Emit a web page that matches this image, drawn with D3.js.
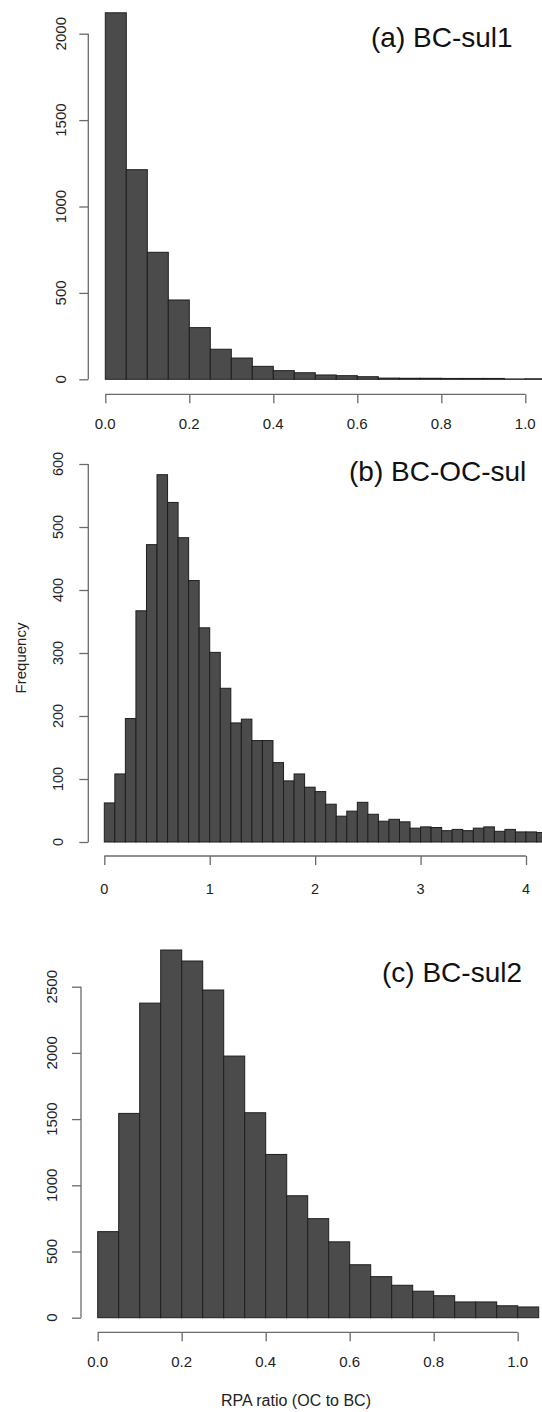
<!DOCTYPE html>
<html>
<head>
<meta charset="utf-8">
<script src="https://cdn.jsdelivr.net/npm/d3@7"></script>
<style>
  html, body { margin: 0; padding: 0; background: #fff; }
  svg { display: block; }
  text { font-family: "Liberation Sans", Arial, Helvetica, sans-serif; fill: #222; }
</style>
</head>
<body>
<svg id="chart" width="542" height="1412"></svg>
<script>
// Histogram counts of the RPA ratio (OC to BC), one array per scenario
const binWidthA = 0.05;
const countsA = [2121, 1213, 735, 459, 299, 174, 123, 75, 50, 38, 25, 21, 15, 7, 6, 6, 5, 5, 5, 2, 3];

const binWidthB = 0.1;
const countsB = [62, 108, 196, 367, 472, 583, 539, 483, 415, 340, 301, 244, 189, 195, 161, 161,
                 126, 97, 108, 87, 80, 60, 41, 49, 63, 44, 33, 36, 32, 22, 24, 23, 18, 20, 18,
                 22, 24, 17, 20, 16, 16, 15];

const binWidthC = 0.05;
const countsC = [650, 1543, 2376, 2777, 2694, 2475, 1976, 1548, 1233, 921, 748, 573, 400, 310,
                 245, 200, 166, 119, 119, 90, 81];

// Panel titles and axis tick values
const titles = ["(a) BC-sul1", "(b) BC-OC-sul", "(c) BC-sul2"];
const xTicksA = [0, 0.2, 0.4, 0.6, 0.8, 1.0];
const yTicksA = [0, 500, 1000, 1500, 2000];
const xTicksB = [0, 1, 2, 3, 4];
const yTicksB = [0, 100, 200, 300, 400, 500, 600];
const xTicksC = [0, 0.2, 0.4, 0.6, 0.8, 1.0];
const yTicksC = [0, 500, 1000, 1500, 2000, 2500];
const yLabel = "Frequency";
const xLabel = "RPA ratio (OC to BC)";

const svg = d3.select("#chart");

const panels = [
  { counts: countsA, bw: binWidthA, xTicks: xTicksA, yTicks: yTicksA, title: titles[0], xFmt: d3.format(".1f"),
    xDom: [0, 1], xRange: [105.3, 525.3], yDom: [0, 2000], yRange: [379.3, 33.7],
    xAxisY: 394.3, yAxisX: 88.3, xLabY: 429, yLabX: 66, tickFont: 15,
    titleX: 371, titleY: 47, titleSize: 28 },
  { counts: countsB, bw: binWidthB, xTicks: xTicksB, yTicks: yTicksB, title: titles[1], xFmt: d3.format("d"),
    xDom: [0, 4], xRange: [104.3, 526], yDom: [0, 600], yRange: [842, 464],
    xAxisY: 856, yAxisX: 88.3, xLabY: 894, yLabX: 63, tickFont: 14.5,
    titleX: 349, titleY: 481, titleSize: 28 },
  { counts: countsC, bw: binWidthC, xTicks: xTicksC, yTicks: yTicksC, title: titles[2], xFmt: d3.format(".1f"),
    xDom: [0, 1], xRange: [97.7, 517.7], yDom: [0, 2500], yRange: [1317.7, 986.7],
    xAxisY: 1332.3, yAxisX: 81, xLabY: 1367, yLabX: 57, tickFont: 15,
    titleX: 382, titleY: 982, titleSize: 28 }
];

const axisColor = "#6a6a6a";

panels.forEach(p => {
  const x = d3.scaleLinear().domain(p.xDom).range(p.xRange);
  const y = d3.scaleLinear().domain(p.yDom).range(p.yRange);
  const g = svg.append("g");

  // bars
  const bins = p.counts.map((c, i) => ({ x0: i * p.bw, x1: (i + 1) * p.bw, n: c }));
  g.append("g").selectAll("rect").data(bins).join("rect")
    .attr("x", d => x(d.x0))
    .attr("width", d => x(d.x1) - x(d.x0))
    .attr("y", d => y(d.n))
    .attr("height", d => y(0) - y(d.n))
    .attr("fill", "#4b4b4b")
    .attr("stroke", "#1e1e1e")
    .attr("stroke-width", 1);

  // x axis (line spans first to last tick)
  const xa = g.append("g").attr("transform", `translate(0,${p.xAxisY})`)
    .call(d3.axisBottom(x).tickValues(p.xTicks).tickSize(9).tickSizeOuter(0).tickFormat(""));
  xa.select(".domain").remove();
  xa.selectAll(".tick line").attr("stroke", axisColor).attr("stroke-width", 1.3);
  xa.append("line")
    .attr("x1", x(p.xTicks[0])).attr("x2", x(p.xTicks[p.xTicks.length - 1]))
    .attr("stroke", axisColor).attr("stroke-width", 1.3);
  g.append("g").selectAll("text").data(p.xTicks).join("text")
    .attr("x", d => x(d)).attr("y", p.xLabY)
    .attr("text-anchor", "middle")
    .style("font-size", p.tickFont + "px")
    .text(p.xFmt);

  // y axis
  const ya = g.append("g").attr("transform", `translate(${p.yAxisX},0)`)
    .call(d3.axisLeft(y).tickValues(p.yTicks).tickSize(9).tickSizeOuter(0).tickFormat(""));
  ya.select(".domain").remove();
  ya.selectAll(".tick line").attr("stroke", axisColor).attr("stroke-width", 1.3);
  ya.append("line")
    .attr("y1", y(p.yTicks[0])).attr("y2", y(p.yTicks[p.yTicks.length - 1]))
    .attr("stroke", axisColor).attr("stroke-width", 1.3);
  g.append("g").selectAll("text").data(p.yTicks).join("text")
    .attr("transform", d => `translate(${p.yLabX},${y(d)}) rotate(-90)`)
    .attr("text-anchor", "middle")
    .style("font-size", p.tickFont + "px")
    .text(d => d);

  // panel title
  g.append("text")
    .attr("x", p.titleX).attr("y", p.titleY)
    .style("font-size", p.titleSize + "px")
    .style("fill", "#111")
    .text(p.title);
});

// shared axis titles
svg.append("text")
  .attr("transform", "translate(26,658) rotate(-90)")
  .attr("text-anchor", "middle")
  .style("font-size", "15px")
  .text(yLabel);

svg.append("text")
  .attr("x", 296).attr("y", 1406)
  .attr("text-anchor", "middle")
  .style("font-size", "16px")
  .text(xLabel);
</script>
</body>
</html>
